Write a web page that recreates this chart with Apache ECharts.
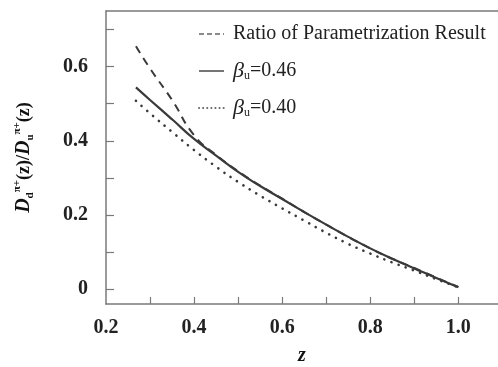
<!DOCTYPE html>
<html>
<head>
<meta charset="utf-8">
<script src="https://cdn.jsdelivr.net/npm/echarts@6/dist/echarts.min.js"></script>
<style>
html,body{margin:0;padding:0;background:#fff;}
#c{width:498px;height:367px;}
</style>
</head>
<body>
<div id="c"></div>
<script>
const zVals = [0.268, 0.3, 0.35, 0.4, 0.45, 0.5, 0.55, 0.6, 0.65, 0.7, 0.75, 0.8, 0.85, 0.9, 0.95, 1.0];
const ratioParam = [0.655, 0.595, 0.51, 0.415, 0.362, 0.318, 0.279, 0.244, 0.208, 0.174, 0.141, 0.110, 0.082, 0.057, 0.031, 0.006];
const beta046 = [0.544, 0.51, 0.458, 0.405, 0.36, 0.316, 0.278, 0.243, 0.208, 0.174, 0.141, 0.110, 0.082, 0.056, 0.030, 0.005];
const beta040 = [0.508, 0.474, 0.424, 0.375, 0.33, 0.289, 0.252, 0.218, 0.185, 0.152, 0.122, 0.096, 0.072, 0.05, 0.027, 0.005];
const xTickLabels = [0.2, 0.4, 0.6, 0.8, 1.0];
const xTicks = [0.3, 0.4, 0.5, 0.6, 0.7, 0.8, 0.9, 1.0];
const yTickLabels = [0, 0.2, 0.4, 0.6];
const yTicks = [0, 0.1, 0.2, 0.3, 0.4, 0.5, 0.6, 0.7];
const seriesNames = ['Ratio of Parametrization Result', 'beta046', 'beta040'];
const legendLabels = {
  'Ratio of Parametrization Result': 'Ratio of Parametrization Result',
  'beta046': '{b|β}{s|u}=0.46',
  'beta040': '{b|β}{s|u}=0.40'
};

const pair = (ys) => zVals.map((z, i) => [z, ys[i]]);
const axisCol = '#7a7a7a';
const lineCol = '#3a3a3a';
const legCol = '#666';
const serif = 'Liberation Serif';

const chart = echarts.init(document.getElementById('c'));
chart.setOption({
  backgroundColor: '#fff',
  animation: false,
  grid: { left: 106, top: 11, right: 0, bottom: 63, outerBoundsMode: 'none', containLabel: false },
  legend: {
    orient: 'vertical',
    left: 193,
    top: 18,
    itemWidth: 25,
    itemHeight: 14,
    itemGap: 15,
    data: [
      { name: seriesNames[0], lineStyle: { color: legCol, width: 1.6, type: [5, 3] } },
      { name: seriesNames[1], lineStyle: { color: legCol, width: 1.8, type: 'solid' } },
      { name: seriesNames[2], lineStyle: { color: legCol, width: 2, type: [0.1, 4], cap: 'round' } }
    ],
    itemStyle: { opacity: 0 },
    formatter: (n) => legendLabels[n],
    textStyle: {
      fontFamily: serif, fontSize: 20, color: '#222', lineHeight: 22, padding: [0, 0, 0, 4],
      rich: {
        b: { fontFamily: serif, fontSize: 22, fontStyle: 'italic', color: '#222', lineHeight: 22 },
        s: { fontFamily: serif, fontSize: 12, color: '#222', lineHeight: 10, verticalAlign: 'bottom' }
      }
    }
  },
  xAxis: [{
    type: 'value', min: 0.2, max: 1.09,
    name: 'z', nameLocation: 'middle', nameGap: 42,
    nameTextStyle: { fontFamily: serif, fontSize: 20, fontStyle: 'italic', fontWeight: 'bold', color: '#111' },
    axisLine: { show: true, onZero: false, lineStyle: { color: axisCol, width: 1.5 } },
    axisTick: { show: true, inside: true, length: 7, customValues: xTicks, lineStyle: { color: axisCol, width: 1.2 } },
    axisLabel: { customValues: xTickLabels, margin: 14, fontFamily: serif, fontSize: 20, fontWeight: 'bold', color: '#222',
      formatter: (v) => v.toFixed(1) },
    splitLine: { show: false }
  }, {
    type: 'value', min: 0.2, max: 1.09, position: 'top',
    axisLine: { show: true, onZero: false, lineStyle: { color: axisCol, width: 1.5 } },
    axisTick: { show: false }, axisLabel: { show: false }, splitLine: { show: false }
  }],
  yAxis: {
    type: 'value', min: -0.04, max: 0.75,
    name: '{i|D}{sb|d}{sp|π+}{n|(z)/}{i|D}{sb|u}{sp|π+}{n|(z)}',
    nameLocation: 'middle', nameGap: 70, nameRotate: 90,
    nameTextStyle: {
      fontFamily: serif, fontSize: 17, fontWeight: 'bold', color: '#111', lineHeight: 24,
      rich: {
        i: { fontFamily: serif, fontSize: 20, fontStyle: 'italic', fontWeight: 'bold', color: '#111', lineHeight: 24 },
        n: { fontFamily: serif, fontSize: 18, fontWeight: 'bold', color: '#111', lineHeight: 24 },
        sb: { fontFamily: serif, fontSize: 11, fontWeight: 'bold', color: '#111', lineHeight: 11, verticalAlign: 'bottom' },
        sp: { fontFamily: serif, fontSize: 11, fontWeight: 'bold', color: '#111', lineHeight: 11, verticalAlign: 'top' }
      }
    },
    axisLine: { show: true, onZero: false, lineStyle: { color: axisCol, width: 1.5 } },
    axisTick: { show: true, inside: true, length: 8, customValues: yTicks, lineStyle: { color: axisCol, width: 1.2 } },
    axisLabel: { customValues: yTickLabels, margin: 18, fontFamily: serif, fontSize: 20, fontWeight: 'bold', color: '#222',
      formatter: (v) => v === 0 ? '0' : v.toFixed(1) },
    splitLine: { show: false }
  },
  series: [
    { name: seriesNames[0], type: 'line', data: pair(ratioParam), smooth: true, symbol: 'none',
      lineStyle: { color: lineCol, width: 2, type: [8, 6] }, itemStyle: { color: lineCol } },
    { name: seriesNames[1], type: 'line', data: pair(beta046), smooth: true, symbol: 'none',
      lineStyle: { color: lineCol, width: 2.2, type: 'solid' }, itemStyle: { color: lineCol } },
    { name: seriesNames[2], type: 'line', data: pair(beta040), smooth: true, symbol: 'none',
      lineStyle: { color: lineCol, width: 2.6, type: [0.1, 7.5], cap: 'round' }, itemStyle: { color: lineCol } }
  ]
});
</script>
</body>
</html>
